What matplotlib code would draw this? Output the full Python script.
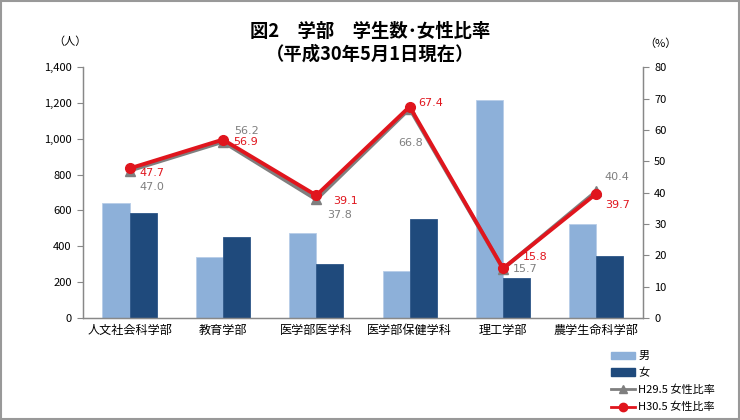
import matplotlib
matplotlib.use("Agg")
import matplotlib.pyplot as plt
import numpy as np
from matplotlib.patches import Rectangle, Patch
from matplotlib.lines import Line2D
from matplotlib.ticker import FuncFormatter

plt.rcParams['font.family'] = ['Noto Sans CJK JP', 'DejaVu Sans']

categories = ['人文社会科学部', '教育学部', '医学部医学科', '医学部保健学科', '理工学部', '農学生命科学部']
male = [640, 340, 474, 262, 1215, 522]
female = [585, 452, 301, 550, 223, 345]
ratio_h29 = [47.0, 56.2, 37.8, 66.8, 15.7, 40.4]
ratio_h30 = [47.7, 56.9, 39.1, 67.4, 15.8, 39.7]

# label offsets in points (dx, dy)
off_h29 = [(16, -12), (17, 7.5), (16.5, -11), (1, -25), (16, 0), (14.5, 10)]
off_h30 = [(16, -3), (16.5, -1.5), (21, -4), (15.5, 3), (23, 8), (15, -8)]

c_light = '#8DB0D9'
c_dark = '#1F4A7C'
c_gray = '#7F7F7F'
c_red = '#E0151D'
axis_c = '#888888'

fig = plt.figure(figsize=(7.4, 4.2), dpi=100)
ax = fig.add_axes([0.112, 0.243, 0.757, 0.597])
ax2 = ax.twinx()

x = np.arange(len(categories))
w = 0.29
ax.bar(x - w / 2, male, w, color=c_light, edgecolor='#B7CDE8', linewidth=0.6)
ax.bar(x + w / 2, female, w, color=c_dark, edgecolor='#2C5688', linewidth=0.6)

ax.set_xlim(-0.5, len(categories) - 0.5)
ax.set_ylim(0, 1400)
ax.set_yticks(range(0, 1401, 200))
ax.yaxis.set_major_formatter(FuncFormatter(lambda v, p: f'{int(v):,}'))
ax.set_xticks(x)
ax.set_xticklabels(categories, fontsize=8.7)
ax.tick_params(axis='x', length=0, pad=4)
ax.tick_params(axis='y', labelsize=8, length=4, color=axis_c, pad=4)

ax2.plot(x, ratio_h29, color=c_gray, lw=2.8, marker='^', ms=7, zorder=3)
ax2.plot(x, ratio_h30, color=c_red, lw=2.8, marker='o', ms=7, zorder=4)
ax2.set_ylim(0, 80)
ax2.set_yticks(range(0, 81, 10))
ax2.tick_params(axis='y', labelsize=8, length=4, color=axis_c, pad=4)

for i in range(len(categories)):
    ax2.annotate(f'{ratio_h29[i]:.1f}', (x[i], ratio_h29[i]), xytext=off_h29[i],
                 textcoords='offset points', ha='center', va='center',
                 fontsize=8, color=c_gray, family='DejaVu Sans')
    ax2.annotate(f'{ratio_h30[i]:.1f}', (x[i], ratio_h30[i]), xytext=off_h30[i],
                 textcoords='offset points', ha='center', va='center',
                 fontsize=8, color=c_red, family='DejaVu Sans')

for a in (ax, ax2):
    a.spines['top'].set_visible(False)
    for s in ('left', 'right', 'bottom'):
        a.spines[s].set_color(axis_c)
        a.spines[s].set_linewidth(0.9)

fig.text(0.5, 0.925, '図2　学部　学生数･女性比率', ha='center', va='center',
         fontsize=13.2, fontweight='bold')
fig.text(0.5, 0.872, '（平成30年5月1日現在）', ha='center', va='center',
         fontsize=13.2, fontweight='bold')
fig.text(0.095, 0.902, '（人）', ha='center', va='center', fontsize=8)
fig.text(0.893, 0.897, '（%）', ha='center', va='center', fontsize=8)

handles = [
    Patch(facecolor=c_light, edgecolor=c_light),
    Patch(facecolor=c_dark, edgecolor=c_dark),
    Line2D([], [], color=c_gray, lw=2, marker='^', ms=6),
    Line2D([], [], color=c_red, lw=2, marker='o', ms=6),
]
labels = ['男', '女', 'H29.5 女性比率', 'H30.5 女性比率']
fig.legend(handles, labels, loc='lower left', bbox_to_anchor=(0.815, 0.0),
           frameon=False, fontsize=8, handlelength=2.2, handleheight=0.6,
           labelspacing=0.6, handletextpad=0.25, borderaxespad=0.3)

fig.patches.append(Rectangle((0.002, 0.003), 0.996, 0.994, transform=fig.transFigure,
                             fill=False, edgecolor='#999999', lw=1.5))

fig.savefig('out.png', dpi=100)
